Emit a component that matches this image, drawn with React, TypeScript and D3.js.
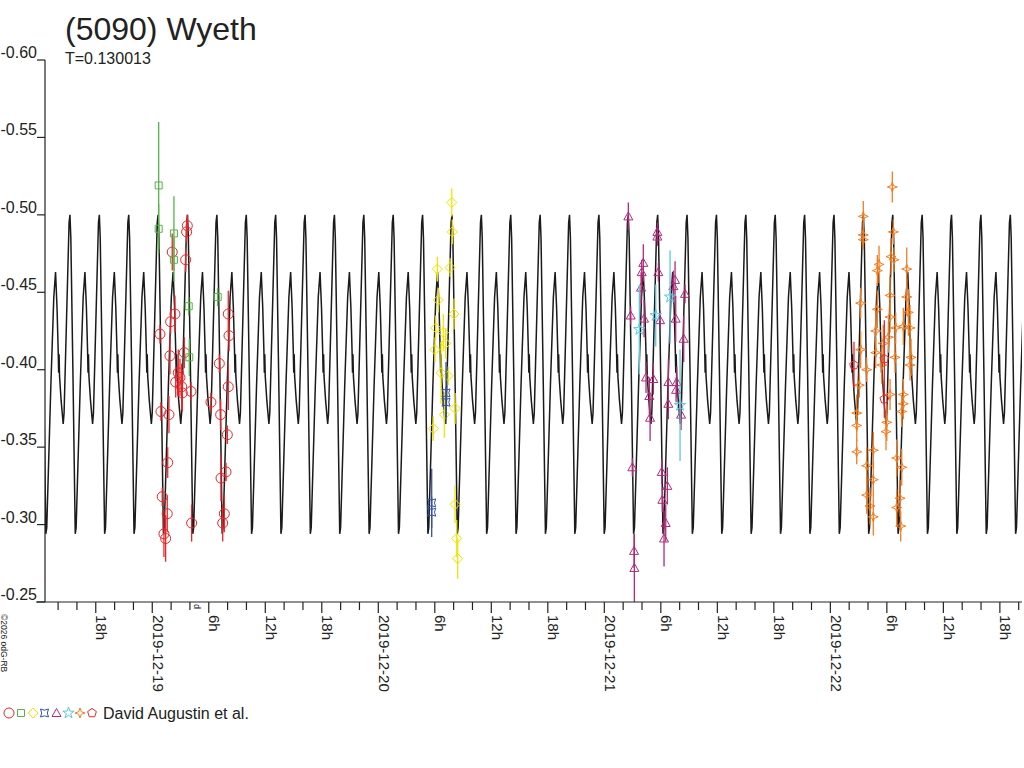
import React, { useEffect, useRef } from 'react';
import * as d3 from 'd3';

// hours after 2019-12-19 00:00 UT, magnitude, error
type Obs = [number, number, number];

const TITLE = '(5090) Wyeth';
const SUBTITLE = 'T=0.130013';
const OBSERVER = 'David Augustin et al.';
const COPYRIGHT = '\u00a92026 odG-RB';

const Y_TICKS = [-0.6, -0.55, -0.5, -0.45, -0.4, -0.35, -0.3, -0.25];

// model lightcurve, one rotation: [phase, mag]
const PERIOD_DAYS = 0.130013;
const EPOCH_H = -8.74; // time of the bright maximum
const CURVE_SHAPE: [number, number][] = [
  [0.0, -0.5], [0.03, -0.485], [0.1, -0.4], [0.18, -0.294], [0.21, -0.298],
  [0.35, -0.39], [0.45, -0.447], [0.51, -0.463], [0.56, -0.44], [0.6, -0.412],
  [0.615, -0.398], [0.63, -0.41], [0.645, -0.396], [0.7, -0.38], [0.77, -0.365],
  [0.8, -0.372], [0.88, -0.43], [0.97, -0.495],
];

const RED_CIRCLES: Obs[] = [
  [3.72, -0.493, 0.007], [3.65, -0.489, 0.007], [2.12, -0.476, 0.012], [3.55, -0.471, 0.008],
  [2.41, -0.436, 0.012], [1.95, -0.431, 0.008], [0.82, -0.423, 0.006], [1.88, -0.409, 0.012],
  [3.4, -0.411, 0.01], [2.76, -0.398, 0.015], [2.49, -0.392, 0.01], [3.12, -0.389, 0.015],
  [4.11, -0.386, 0.006], [0.92, -0.373, 0.006], [1.77, -0.371, 0.012], [1.64, -0.34, 0.01],
  [1.06, -0.318, 0.006], [1.59, -0.307, 0.012], [1.24, -0.294, 0.015], [1.42, -0.291, 0.015],
  [4.18, -0.301, 0.012], [8.07, -0.436, 0.015], [8.15, -0.422, 0.01], [7.12, -0.404, 0.006],
  [8.07, -0.389, 0.015], [6.23, -0.379, 0.006], [7.26, -0.371, 0.01], [7.97, -0.358, 0.006],
  [7.83, -0.334, 0.006], [7.3, -0.33, 0.015], [7.65, -0.307, 0.012], [7.48, -0.301, 0.012],
  [2.94, -0.395, 0.012], [3.19, -0.385, 0.012],
];

const GREEN_SQUARES: Obs[] = [
  [0.68, -0.519, 0.041], [0.68, -0.491, 0.016], [2.3, -0.488, 0.024], [2.3, -0.471, 0.014],
  [3.87, -0.441, 0.006], [3.93, -0.408, 0.012], [6.95, -0.447, 0.006],
];

const YELLOW_DIAMONDS: Obs[] = [
  [31.8, -0.508, 0.009], [31.86, -0.489, 0.008], [30.27, -0.465, 0.008], [31.62, -0.466, 0.006],
  [30.37, -0.445, 0.008], [32.04, -0.436, 0.01], [30.1, -0.427, 0.008], [30.9, -0.424, 0.012],
  [31.16, -0.417, 0.01], [30.02, -0.413, 0.008], [30.66, -0.398, 0.02], [31.43, -0.396, 0.006],
  [31.01, -0.371, 0.015], [32.15, -0.375, 0.01], [29.84, -0.362, 0.008], [32.15, -0.313, 0.012],
  [32.33, -0.291, 0.012], [32.43, -0.278, 0.013],
];

const NAVY_BOWTIES: Obs[] = [
  [31.19, -0.385, 0.02], [31.19, -0.379, 0.01], [29.67, -0.314, 0.022], [29.67, -0.308, 0.01],
];

const PURPLE_TRIANGLES: Obs[] = [
  [50.55, -0.499, 0.009], [53.63, -0.489, 0.006], [53.63, -0.486, 0.006], [52.14, -0.469, 0.012],
  [51.97, -0.463, 0.008], [53.74, -0.463, 0.006], [55.51, -0.458, 0.012], [51.9, -0.453, 0.01],
  [55.33, -0.454, 0.01], [56.57, -0.449, 0.006], [50.8, -0.435, 0.006], [52.22, -0.433, 0.012],
  [53.92, -0.432, 0.006], [55.58, -0.433, 0.015], [56.43, -0.42, 0.015], [52.43, -0.395, 0.01],
  [53.21, -0.394, 0.01], [54.8, -0.392, 0.015], [55.69, -0.392, 0.01], [55.62, -0.387, 0.008],
  [52.78, -0.383, 0.012], [54.8, -0.378, 0.01], [52.86, -0.369, 0.015], [56.15, -0.371, 0.01],
  [50.98, -0.337, 0.006], [54.1, -0.334, 0.008], [54.69, -0.325, 0.012], [54.16, -0.316, 0.008],
  [54.52, -0.301, 0.012], [54.34, -0.291, 0.018], [51.16, -0.283, 0.011], [51.19, -0.272, 0.022],
];

const CYAN_STARS: Obs[] = [
  [51.72, -0.426, 0.029], [53.46, -0.435, 0.02], [54.98, -0.447, 0.03], [56.04, -0.377, 0.036],
];

const ORANGE_STARS: Obs[] = [
  [78.58, -0.518, 0.01], [75.5, -0.499, 0.01], [75.5, -0.487, 0.008], [75.5, -0.484, 0.006],
  [78.69, -0.489, 0.008], [78.44, -0.473, 0.012], [78.76, -0.471, 0.008], [77.17, -0.468, 0.012],
  [76.99, -0.464, 0.01], [80.11, -0.465, 0.014], [75.22, -0.443, 0.01], [78.34, -0.448, 0.012],
  [80.11, -0.447, 0.012], [76.99, -0.439, 0.012], [80.28, -0.437, 0.015], [78.34, -0.434, 0.01],
  [79.75, -0.428, 0.012], [80.46, -0.427, 0.015], [78.94, -0.427, 0.01], [76.82, -0.425, 0.012],
  [78.16, -0.421, 0.01], [77.62, -0.417, 0.012], [75.22, -0.413, 0.012], [76.82, -0.411, 0.01],
  [78.87, -0.408, 0.01], [80.57, -0.408, 0.012], [80.46, -0.403, 0.01], [75.86, -0.4, 0.008],
  [77.46, -0.403, 0.012], [75.08, -0.39, 0.008], [79.75, -0.384, 0.01], [79.75, -0.378, 0.01],
  [74.8, -0.372, 0.012], [79.58, -0.373, 0.01], [77.99, -0.366, 0.012], [74.8, -0.364, 0.01],
  [77.91, -0.36, 0.012], [74.8, -0.347, 0.008], [76.56, -0.348, 0.012], [79.05, -0.343, 0.012],
  [75.86, -0.338, 0.012], [79.58, -0.337, 0.012], [76.56, -0.329, 0.012], [75.86, -0.319, 0.012],
  [79.4, -0.317, 0.012], [79.05, -0.311, 0.012], [76.21, -0.312, 0.012], [76.56, -0.305, 0.012],
  [79.47, -0.299, 0.01], [78.34, -0.384, 0.01],
];

const RED_PENTAGONS: Obs[] = [
  [74.51, -0.403, 0.015], [77.73, -0.407, 0.025], [77.73, -0.381, 0.012],
];

const SERIES: { data: Obs[]; color: string; symbol: string }[] = [
  { data: RED_CIRCLES, color: '#e8262a', symbol: 'circle' },
  { data: GREEN_SQUARES, color: '#56b347', symbol: 'square' },
  { data: YELLOW_DIAMONDS, color: '#f2e400', symbol: 'diamond' },
  { data: NAVY_BOWTIES, color: '#3552a4', symbol: 'bowtie' },
  { data: PURPLE_TRIANGLES, color: '#b02a7a', symbol: 'triangle' },
  { data: CYAN_STARS, color: '#5cc8dc', symbol: 'star' },
  { data: ORANGE_STARS, color: '#f27d22', symbol: 'star4' },
  { data: RED_PENTAGONS, color: '#e8262a', symbol: 'pentagon' },
];

const FONT = '"Liberation Sans", Arial, Helvetica, sans-serif';

function symbolPath(kind: string): string {
  switch (kind) {
    case 'circle':
      return d3.symbol(d3.symbolCircle, Math.PI * 25)()!;
    case 'square':
      return 'M-3.5,-3.5L3.5,-3.5L3.5,3.5L-3.5,3.5Z';
    case 'diamond':
      return 'M0,-5L5,0L0,5L-5,0Z';
    case 'bowtie':
      return 'M-4,-4L0,-2.8L4,-4L2.8,0L4,4L0,2.8L-4,4L-2.8,0Z';
    case 'triangle':
      return 'M0,-4.5L4.5,3.5L-4.5,3.5Z';
    case 'star':
      return d3.symbol(d3.symbolStar, 40)()!;
    case 'star4':
      return 'M0,-5L1.3,-1.3L5,0L1.3,1.3L0,5L-1.3,1.3L-5,0L-1.3,-1.3Z';
    default: {
      const pts = d3.range(5).map(i => {
        const a = -Math.PI / 2 + (i * 2 * Math.PI) / 5;
        return [4.6 * Math.cos(a), 4.6 * Math.sin(a)];
      });
      return 'M' + pts.map(p => p.join(',')).join('L') + 'Z';
    }
  }
}

const BASE = Date.UTC(2019, 11, 19);
const toDate = (h: number) => new Date(BASE + h * 3600000);

const App: React.FC = () => {
  const ref = useRef<SVGSVGElement>(null);

  useEffect(() => {
    if (!ref.current) return;
    const svg = d3.select(ref.current);
    svg.selectAll('*').remove();

    const left = 45, right = 1022, top = 60, bottom = 602;
    const startH = -11.39, endH = 92.35;

    const x = d3.scaleUtc().domain([toDate(startH), toDate(endH)]).range([left, right]);
    const y = d3.scaleLinear().domain([-0.6, -0.25]).range([top, bottom]);

    svg.append('defs').append('clipPath').attr('id', 'plot-clip')
      .append('rect').attr('x', left).attr('y', top - 20)
      .attr('width', right - left).attr('height', bottom - top + 20);

    // title
    svg.append('text').attr('x', 65).attr('y', 40)
      .attr('font-family', FONT).attr('font-size', 32).attr('fill', '#222')
      .text(TITLE);
    svg.append('text').attr('x', 65).attr('y', 64)
      .attr('font-family', FONT).attr('font-size', 16).attr('fill', '#222')
      .text(SUBTITLE);

    // model curve
    const periodH = PERIOD_DAYS * 24;
    const curve: [number, number][] = [];
    const k0 = Math.floor((startH - EPOCH_H) / periodH) - 1;
    const k1 = Math.ceil((endH - EPOCH_H) / periodH) + 1;
    for (let k = k0; k <= k1; k++) {
      CURVE_SHAPE.forEach(([ph, m]) => curve.push([EPOCH_H + (k + ph) * periodH, m]));
    }
    const line = d3.line<[number, number]>()
      .x(d => x(toDate(d[0])))
      .y(d => y(d[1]));
    svg.append('path')
      .datum(curve)
      .attr('clip-path', 'url(#plot-clip)')
      .attr('fill', 'none')
      .attr('stroke', '#1a1a1a')
      .attr('stroke-width', 1.5)
      .attr('d', line);

    // observations
    const obs = svg.append('g').attr('clip-path', 'url(#plot-clip)');
    SERIES.forEach(s => {
      const g = obs.append('g');
      g.selectAll('line')
        .data(s.data)
        .enter()
        .append('line')
        .attr('x1', d => x(toDate(d[0])))
        .attr('x2', d => x(toDate(d[0])))
        .attr('y1', d => y(d[1] - d[2]))
        .attr('y2', d => y(d[1] + d[2]))
        .attr('stroke', s.color)
        .attr('stroke-width', 1.3);
      g.selectAll('path')
        .data(s.data)
        .enter()
        .append('path')
        .attr('transform', d => `translate(${x(toDate(d[0]))},${y(d[1])})`)
        .attr('d', symbolPath(s.symbol))
        .attr('fill', 'none')
        .attr('stroke', s.color)
        .attr('stroke-width', 1);
    });

    // y axis
    const axis = svg.append('g').attr('stroke', '#222').attr('stroke-width', 1.2);
    axis.append('line').attr('x1', left).attr('x2', left).attr('y1', top).attr('y2', bottom);
    axis.append('line').attr('x1', 36).attr('x2', right).attr('y1', bottom).attr('y2', bottom);
    Y_TICKS.forEach(v => {
      axis.append('line').attr('x1', 37).attr('x2', left).attr('y1', y(v)).attr('y2', y(v));
      svg.append('text')
        .attr('x', 37).attr('y', y(v) - 2)
        .attr('text-anchor', 'end')
        .attr('font-family', FONT).attr('font-size', 16).attr('fill', '#222')
        .text(v.toFixed(2));
    });

    // x axis: 2h ticks, labels every 6h
    const ticks = x.ticks(d3.utcHour.every(2)!);
    const dayFmt = d3.utcFormat('%Y-%m-%d');
    ticks.forEach(t => {
      const hr = t.getUTCHours();
      const major = hr % 6 === 0;
      const tx = x(t);
      axis.append('line').attr('x1', tx).attr('x2', tx)
        .attr('y1', bottom).attr('y2', bottom + (major ? 11 : 8));
      if (major) {
        svg.append('text')
          .attr('transform', `translate(${tx + 0.5},615) rotate(90)`)
          .attr('font-family', FONT).attr('font-size', 15).attr('fill', '#222')
          .text(hr === 0 ? dayFmt(t) : `${hr}h`);
      }
    });

    svg.append('text')
      .attr('transform', 'translate(194,604) rotate(90)')
      .attr('font-family', FONT).attr('font-size', 9).attr('fill', '#222')
      .text('d');

    svg.append('text')
      .attr('transform', 'translate(1,614) rotate(90)')
      .attr('font-family', FONT).attr('font-size', 8.5).attr('fill', '#222')
      .text(COPYRIGHT);

    // legend
    const legend = svg.append('g').attr('transform', 'translate(0,713)');
    const legendX = [9, 21, 33, 44.5, 56.5, 68.5, 80, 92];
    SERIES.forEach((s, i) => {
      legend.append('path')
        .attr('transform', `translate(${legendX[i]},0)`)
        .attr('d', symbolPath(s.symbol))
        .attr('fill', 'none')
        .attr('stroke', s.color)
        .attr('stroke-width', 1);
    });
    legend.append('text')
      .attr('x', 103).attr('y', 6)
      .attr('font-family', FONT).attr('font-size', 16).attr('fill', '#222')
      .text(OBSERVER);
  }, []);

  return (
    <svg
      ref={ref}
      width={1024}
      height={768}
      style={{ position: 'absolute', left: 0, top: 0, background: '#fff' }}
    />
  );
};

export default App;
